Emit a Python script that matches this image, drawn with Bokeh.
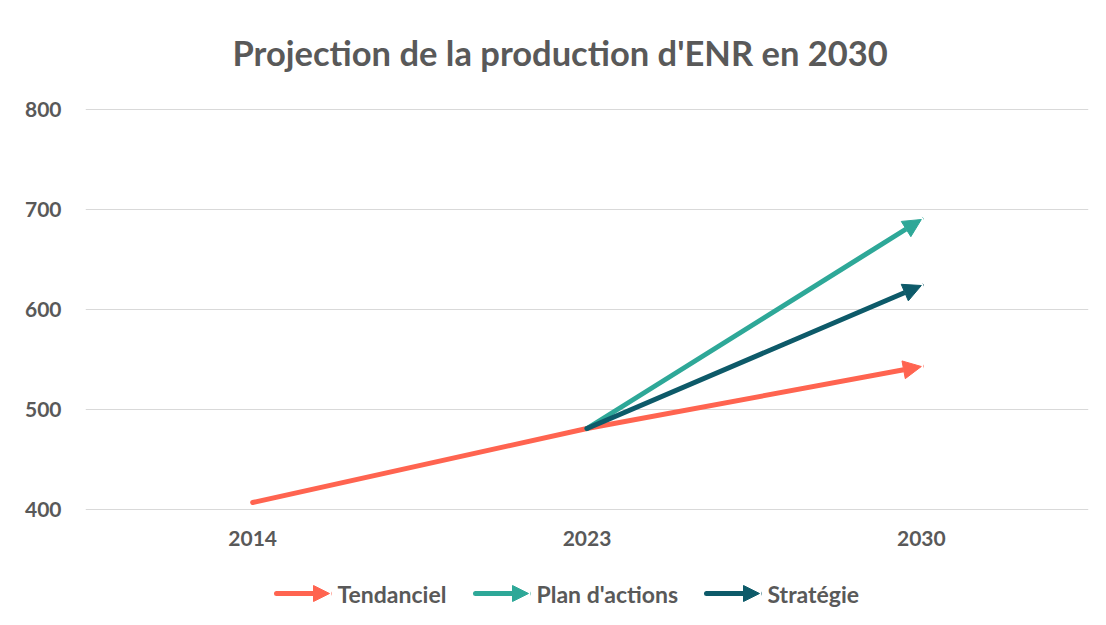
from bokeh.plotting import figure
from bokeh.layouts import column
from bokeh.models import Range1d, FixedTicker, SingleIntervalTicker, Arrow, NormalHead, Label
from bokeh.embed import file_html
from bokeh.resources import INLINE

# ---- data ----
categories = ["2014", "2023", "2030"]
tendanciel = [407, 481, 543]
plan_actions = [None, 481, 690]
strategie = [None, 481, 624]
series_names = ["Tendanciel", "Plan d'actions", "Stratégie"]
series_colors = ["#FF6450", "#2EA898", "#0D5A69"]
title_text = "Projection de la production d'ENR en 2030"

TEXT = "#595959"
FONT = "Lato"
BL, BR = 85, 12
WIDTH = 1100


def strip(h):
    f = figure(width=WIDTH, height=h, output_backend="svg", toolbar_location=None,
               x_range=Range1d(BL, WIDTH - BR), y_range=Range1d(0, h),
               min_border_left=BL, min_border_right=BR, min_border_top=0, min_border_bottom=0)
    f.axis.visible = False
    f.grid.visible = False
    f.outline_line_color = None
    f.background_fill_color = "white"
    f.border_fill_color = "white"
    return f


# ---- title strip ----
TH = 88
hd = strip(TH)
hd.add_layout(Label(x=232, y=TH - 52, text=title_text, text_font=FONT, text_font_style="bold",
                    text_font_size="34.5px", text_color=TEXT, text_baseline="middle",
                    text_align="left"))

xs = [i + 0.5 for i in range(len(categories))]

p = figure(width=WIDTH, height=480, output_backend="svg", toolbar_location=None,
           x_range=Range1d(0, len(categories)), y_range=Range1d(399, 801),
           min_border_left=BL, min_border_right=BR, min_border_top=20, min_border_bottom=58)
p.outline_line_color = None
p.background_fill_color = "white"
p.border_fill_color = "white"

p.xaxis.ticker = FixedTicker(ticks=xs)
p.xaxis.major_label_overrides = {x: c for x, c in zip(xs, categories)}
p.yaxis.ticker = SingleIntervalTicker(interval=100)
for ax in (p.xaxis, p.yaxis):
    ax.axis_line_color = None
    ax.major_tick_line_color = None
    ax.minor_tick_line_color = None
    ax.major_label_text_font = FONT
    ax.major_label_text_font_style = "bold"
    ax.major_label_text_font_size = "21px"
    ax.major_label_text_color = TEXT
p.yaxis.major_label_standoff = 18
p.xaxis.major_label_standoff = 14
p.xgrid.grid_line_color = None
p.ygrid.grid_line_color = "#D9D9D9"
p.ygrid.grid_line_width = 1.2

W = 5
all_series = [tendanciel, plan_actions, strategie]
for vals, col in zip(all_series, series_colors):
    pts = [(x, v) for x, v in zip(xs, vals) if v is not None]
    if len(pts) > 2:
        p.line([q[0] for q in pts[:-1]], [q[1] for q in pts[:-1]],
               line_color=col, line_width=W, line_cap="round", line_join="round")
    (x0, y0), (x1, y1) = pts[-2], pts[-1]
    p.add_layout(Arrow(x_start=x0, y_start=y0, x_end=x1, y_end=y1,
                       line_color=col, line_width=W, line_cap="round",
                       end=NormalHead(size=18, fill_color=col, line_color=col, line_width=1)))

# ---- legend strip (x in page pixels) ----
LH = 52
lg = strip(LH)
leg_x = [276, 475, 706]
leg_y = 27
for lx, name, col in zip(leg_x, series_names, series_colors):
    lg.add_layout(Arrow(x_start=lx, y_start=leg_y, x_end=lx + 53, y_end=leg_y,
                        line_color=col, line_width=W, line_cap="round",
                        end=NormalHead(size=16, fill_color=col, line_color=col, line_width=1)))
    lg.add_layout(Label(x=lx + 61, y=leg_y, text=name,
                        text_font=FONT, text_font_style="bold", text_font_size="23px",
                        text_color=TEXT, text_baseline="middle", text_align="left"))

layout = column(hd, p, lg, spacing=0)
open("out.html", "w").write(file_html(layout, INLINE))
